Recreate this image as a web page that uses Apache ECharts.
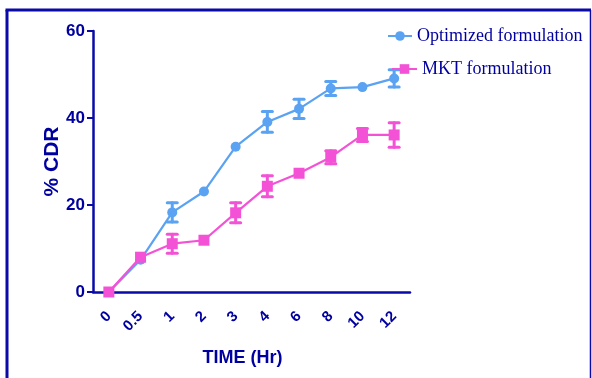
<!DOCTYPE html>
<html>
<head>
<meta charset="utf-8">
<script src="https://cdn.jsdelivr.net/npm/echarts@6/dist/echarts.min.js"></script>
<style>
html,body{margin:0;padding:0;background:#fff;}
#chart{width:592px;height:378px;}
</style>
</head>
<body>
<div id="chart"></div>
<script>
var timeLabels = ['0', '0.5', '1', '2', '3', '4', '6', '8', '10', '12'];
var optName = 'Optimized formulation';
var mktName = 'MKT formulation';
var optValues = [0, 7.4, 18.3, 23.1, 33.4, 39.1, 42.1, 46.8, 47.1, 49.1];
var optErrors = [0, 0.3, 2.2, 0.3, 0.4, 2.4, 2.2, 1.6, 0.4, 2.0];
var mktValues = [0, 8.0, 11.1, 11.9, 18.2, 24.3, 27.3, 31.0, 36.1, 36.1];
var mktErrors = [0, 0.3, 2.2, 0.3, 2.3, 2.4, 0.4, 1.5, 1.5, 2.8];
var yTicks = { min: 0, max: 60, interval: 20 };

var axisColor = '#0a0aa8';
var textColor = '#0000a0';
var optColor = '#5aa2f2';
var mktColor = '#f452d6';

function errData(vals, errs) {
  return vals.map(function (v, i) { return [i, v - errs[i], v + errs[i]]; });
}
function errRender(color) {
  return function (params, api) {
    var x = api.value(0);
    var lo = api.coord([x, api.value(1)]);
    var hi = api.coord([x, api.value(2)]);
    if (Math.abs(lo[1] - hi[1]) < 6) { return null; }
    var hw = 5;
    var st = { stroke: color, lineWidth: 3, lineCap: 'round' };
    return {
      type: 'group',
      children: [
        { type: 'line', shape: { x1: hi[0], y1: hi[1], x2: lo[0], y2: lo[1] }, style: st },
        { type: 'line', shape: { x1: hi[0] - hw, y1: hi[1], x2: hi[0] + hw, y2: hi[1] }, style: st },
        { type: 'line', shape: { x1: lo[0] - hw, y1: lo[1], x2: lo[0] + hw, y2: lo[1] }, style: st }
      ]
    };
  };
}

var chart = echarts.init(document.getElementById('chart'), null, { renderer: 'canvas' });
chart.setOption({
  animation: false,
  backgroundColor: '#ffffff',
  grid: { left: 93, right: 182, top: 31, bottom: 86, containLabel: false },
  legend: [
    {
      data: [optName], left: 382, top: 22, itemWidth: 24, itemHeight: 12, itemGap: 0,
      textStyle: { fontFamily: 'Liberation Serif', fontSize: 18, color: textColor }
    },
    {
      data: [mktName], left: 386, top: 55, itemWidth: 25, itemHeight: 12, itemGap: 0,
      textStyle: { fontFamily: 'Liberation Serif', fontSize: 18, color: textColor }
    }
  ],
  xAxis: {
    type: 'category',
    data: timeLabels,
    boundaryGap: true,
    name: 'TIME (Hr)',
    nameLocation: 'middle',
    nameGap: 57,
    nameMoveOverlap: false,
    nameTextStyle: { fontFamily: 'Liberation Sans', fontWeight: 'bold', fontSize: 18, color: textColor, padding: [0, 18, 0, 0] },
    axisLine: { lineStyle: { color: axisColor, width: 2.5 } },
    axisTick: { alignWithLabel: true, length: 8, lineStyle: { color: axisColor, width: 2 } },
    axisLabel: { rotate: 45, margin: 22, fontFamily: 'Liberation Sans', fontWeight: 'bold', fontSize: 15, color: textColor },
    splitLine: { show: false }
  },
  yAxis: {
    type: 'value',
    min: yTicks.min, max: yTicks.max, interval: yTicks.interval,
    name: '% CDR',
    nameLocation: 'middle',
    nameGap: 30,
    nameMoveOverlap: false,
    nameTextStyle: { fontFamily: 'Liberation Sans', fontWeight: 'bold', fontSize: 21, color: textColor },
    axisLine: { show: true, lineStyle: { color: axisColor, width: 2.5 } },
    axisTick: { show: true, length: 6, lineStyle: { color: axisColor, width: 2 } },
    axisLabel: { margin: 8, fontFamily: 'Liberation Sans', fontWeight: 'bold', fontSize: 17, color: textColor },
    splitLine: { show: false }
  },
  graphic: [
    { type: 'line', shape: { x1: 7, y1: 10, x2: 7, y2: 400 }, style: { stroke: axisColor, lineWidth: 3 } },
    { type: 'line', shape: { x1: 5.5, y1: 10, x2: 591, y2: 10 }, style: { stroke: axisColor, lineWidth: 3 } },
    { type: 'line', shape: { x1: 590.5, y1: 10, x2: 590.5, y2: 400 }, style: { stroke: axisColor, lineWidth: 1.5 } }
  ],
  series: [
    {
      name: optName, type: 'line', data: optValues,
      symbol: 'circle', symbolSize: 10,
      lineStyle: { color: optColor, width: 2.2 },
      itemStyle: { color: optColor },
      z: 3
    },
    {
      name: optName + ' err', type: 'custom', data: errData(optValues, optErrors),
      renderItem: errRender(optColor), encode: { x: 0, y: [1, 2] }, z: 2, silent: true
    },
    {
      name: mktName, type: 'line', data: mktValues,
      symbol: 'rect', symbolSize: 11,
      lineStyle: { color: mktColor, width: 2.2 },
      itemStyle: { color: mktColor },
      z: 5
    },
    {
      name: mktName + ' err', type: 'custom', data: errData(mktValues, mktErrors),
      renderItem: errRender(mktColor), encode: { x: 0, y: [1, 2] }, z: 4, silent: true
    }
  ]
});
</script>
</body>
</html>
